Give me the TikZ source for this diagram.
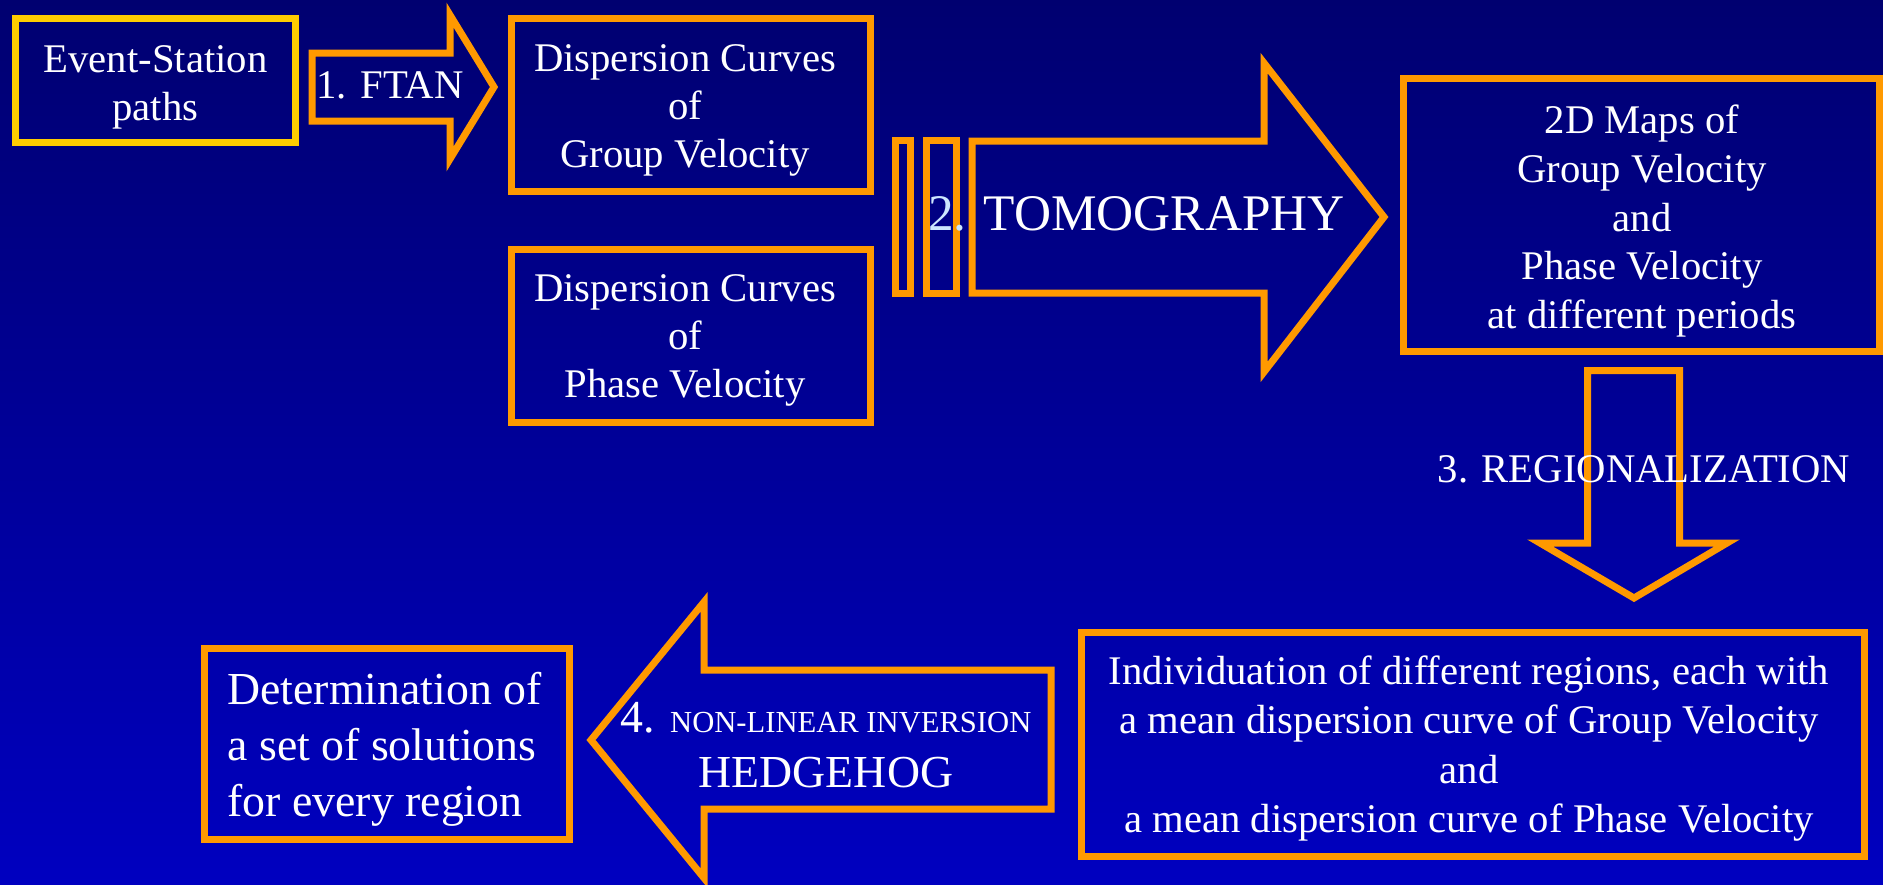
\documentclass[tikz,border=0pt]{standalone}
\usepackage{fontspec}
\setmainfont{Liberation Serif}
\definecolor{bgtop}{RGB}{0,0,112}
\definecolor{bgbot}{RGB}{0,0,192}
\definecolor{org}{RGB}{255,153,0}
\definecolor{yel}{RGB}{255,204,0}
\definecolor{ltblue}{RGB}{204,230,255}
\begin{document}
\begin{tikzpicture}[x=0.5pt,y=-0.5pt,
  box/.style={draw=org, line width=3.5pt, inner sep=0pt, rectangle},
  blockarrow/.style={draw=org, line width=3.5pt, line join=miter},
  txt/.style={text=white, inner sep=0pt, align=center, font=\fontsize{20.35}{24}\selectfont},
]
\useasboundingbox (0,0) rectangle (1883,884);
\shade[top color=bgtop, bottom color=bgbot] (0,0) rectangle (1883,884);

% boxes
\node[box, draw=yel, minimum width=139.75pt, minimum height=62pt] (ev) at (155.25,80) {};
\node[box, minimum width=179.5pt, minimum height=86.5pt] (d1) at (690.5,104.5) {};
\node[box, minimum width=179.5pt, minimum height=86.5pt] (d2) at (690.5,335.5) {};
\node[box, minimum width=7.5pt, minimum height=76.5pt] (s1) at (903,217) {};
\node[box, minimum width=15pt, minimum height=76.5pt] (s2) at (941.5,217) {};
\node[box, minimum width=238pt, minimum height=136.5pt] (maps) at (1641,215) {};
\node[box, minimum width=391.5pt, minimum height=112pt] (ind) at (1472.5,744) {};
\node[box, minimum width=182.5pt, minimum height=95.5pt] (det) at (386.5,743.5) {};

% block arrows
\draw[blockarrow] (312,53) -- (450,53) -- (450,15) -- (494,87) -- (450,159) -- (450,121) -- (312,121) -- cycle;
\draw[blockarrow] (972,141) -- (1264,141) -- (1264,63) -- (1384,217) -- (1264,372) -- (1264,293) -- (972,293) -- cycle;
\draw[blockarrow] (1587.5,370.5) -- (1679.5,370.5) -- (1679.5,543) -- (1727,543) -- (1634,598) -- (1540,543) -- (1587.5,543) -- cycle;
\draw[blockarrow] (1051,670) -- (704,670) -- (704,602) -- (591,740) -- (704,878) -- (704,809) -- (1051,809) -- cycle;

% texts
\node[txt] (evt) at (155.5,87) {Event-Station\\paths};
\node[txt, anchor=base] (ftan) at (390,98) {1. FTAN};
\node[txt, font=\fontsize{20.35}{24.15}\selectfont] (d1t) at (685,110.5) {Dispersion Curves\\of\\Group Velocity};
\node[txt, font=\fontsize{20.35}{24.15}\selectfont] (d2t) at (685,340.5) {Dispersion Curves\\of\\Phase Velocity};
\node[txt, font=\fontsize{25.65}{30}\selectfont, anchor=base] (tomo) at (1136.5,230) {\textcolor{ltblue}{2.} TOMOGRAPHY};
\node[txt, font=\fontsize{20.35}{24.45}\selectfont] (mapt) at (1642,221) {2D Maps of\\Group Velocity\\and\\Phase Velocity\\at different periods};
\node[txt, anchor=base] (reg) at (1644,482.5) {3. REGIONALIZATION};
\node[txt, font=\fontsize{20.35}{24.65}\selectfont] (indt) at (1469,748.5) {Individuation of different regions, each with\\a mean dispersion curve of Group Velocity\\and\\a mean dispersion curve of Phase Velocity};
\node[txt, align=left, font=\fontsize{22.9}{28}\selectfont, anchor=west] (dett) at (227,749.5) {Determination of\\a set of solutions\\for every region};
\node[txt, font=\fontsize{22.9}{28}\selectfont, anchor=base] (inv) at (826,732) {4. {\fontsize{15.3}{18}\selectfont NON-LINEAR INVERSION}};
\node[txt, font=\fontsize{22.9}{28}\selectfont, anchor=base] (hh) at (826,787) {HEDGEHOG};
\end{tikzpicture}
\end{document}
